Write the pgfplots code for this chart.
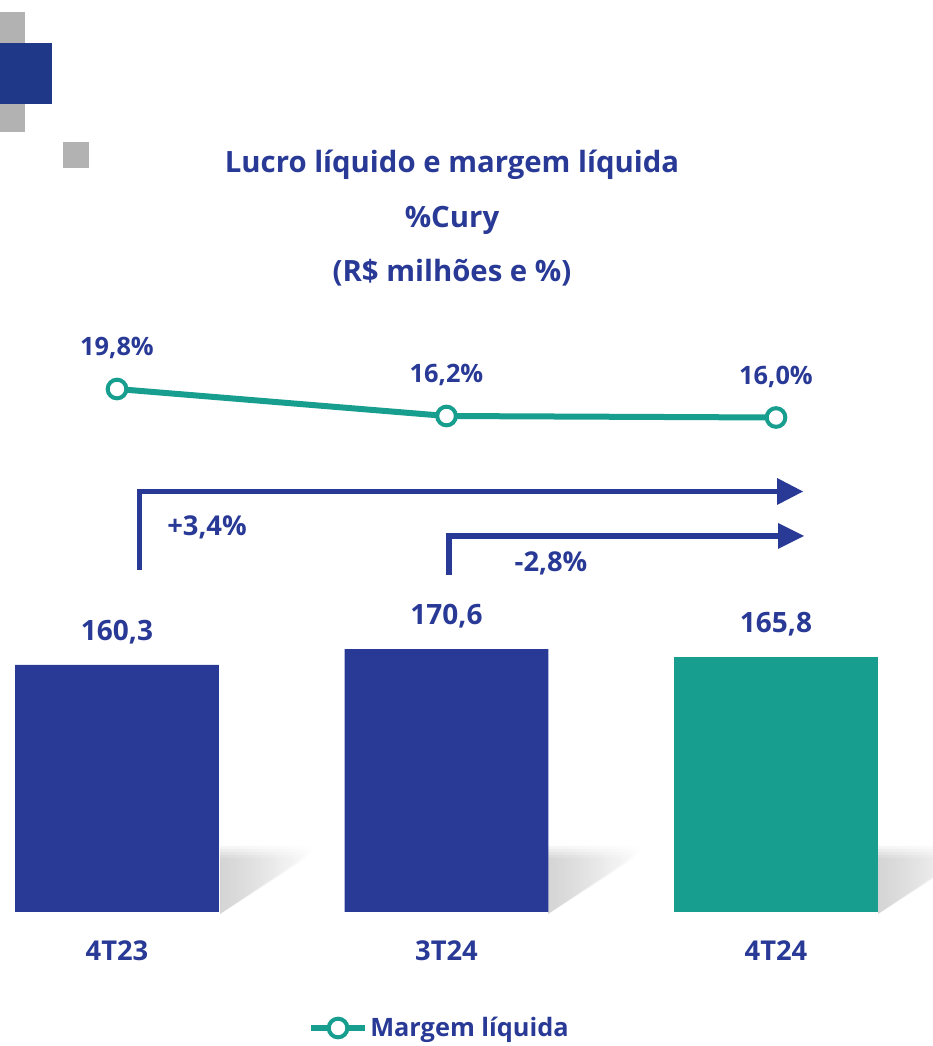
\documentclass[border=0pt]{standalone}
\usepackage{fontspec}
\setmainfont{Open Sans}
\usepackage{pgfplots}
\pgfplotsset{compat=1.18}
\usetikzlibrary{fadings}

\definecolor{cblue}{HTML}{283996}
\definecolor{dblue}{HTML}{1F3988}
\definecolor{cteal}{HTML}{179E8F}
\definecolor{cgray}{HTML}{B2B2B2}

\newcommand{\lbl}{\bfseries\fontsize{19}{23}\selectfont}
\newcommand{\ttl}{\bfseries\fontsize{22}{26}\selectfont}
\newcommand{\val}{\bfseries\fontsize{21}{25}\selectfont}
\newcommand{\cat}{\bfseries\fontsize{20.5}{24}\selectfont}

\begin{document}
\begin{tikzpicture}
\useasboundingbox (0,0) rectangle (699pt,784.5pt);

% decorations, in pixel units from the top left
\begin{scope}[x=0.75pt,y=-0.75pt,yshift=784.5pt]
  \fill[cgray] (0,12) rectangle (25,44);
  \fill[cgray] (0,104) rectangle (25,132);
  \fill[dblue] (0,43) rectangle (52,104);
  \fill[cgray] (63,142) rectangle (89,168);
  % soft bar shadows
  \foreach \x in {220,548,878}{
    \foreach \d in {0,3,6,9,12}{
      \fill[black!45, opacity=0.09, path fading=east]
        (\x,846+\d) -- (\x+100-\d,846+\d) -- (\x,914) -- cycle;
    }
  }
  % titles
  \node[text=cblue,font=\ttl] at (452,165) {Lucro líquido e margem líquida};
  \node[text=cblue,font=\ttl] at (452,220) {\%Cury};
  \node[text=cblue,font=\ttl] at (452,273) {(R\$ milhões e \%)};
  % variation arrows
  \draw[cblue,line width=4pt] (139.5,570) -- (139.5,491.5) -- (778,491.5);
  \fill[cblue] (777,478) -- (803,491.5) -- (777,505) -- cycle;
  \draw[cblue,line width=4pt] (449,575) -- (449,536) -- (779,536);
  \fill[cblue] (778,523) -- (804,536) -- (778,549) -- cycle;
  \node[text=cblue,font=\cat] at (207,527) {+3,4\%};
  \node[text=cblue,font=\cat] at (551,563) {-2,8\%};
\end{scope}

% bars: lucro liquido (R$ milhoes)
\begin{axis}[
  at={(0pt,100.5pt)}, anchor=south west,
  scale only axis, width=699pt, height=684pt,
  xmin=-0.3551, xmax=2.4734, ymin=0, ymax=591.86,
  axis line style={draw=none}, ytick=\empty,
  xtick={0,1,2}, xticklabels={4T23,3T24,4T24},
  major tick length=0pt,
  xticklabel style={anchor=center, yshift=-29pt, font=\cat, text=cblue},
  clip=false,
  nodes near coords={\pgfmathprintnumber[fixed,fixed zerofill,precision=1,use comma,assume math mode=true]{\pgfplotspointmeta}},
  nodes near coords style={anchor=center, yshift=24.5pt, font=\val, text=cblue},
]
\addplot[ybar, bar width=0.619, bar shift=0pt, fill=cblue, draw=none]
  coordinates {(0,160.3) (1,170.6)};
\addplot[ybar, bar width=0.619, bar shift=0pt, fill=cteal, draw=none]
  coordinates {(2,165.8)};
\end{axis}

% line: margem liquida (%)
\begin{axis}[
  at={(0pt,0pt)}, anchor=south west,
  scale only axis, width=699pt, height=784.5pt,
  xmin=-0.3551, xmax=2.4734, ymin=-67.8, ymax=71.67,
  hide axis, clip=false,
  nodes near coords={\pgfmathprintnumber[fixed,fixed zerofill,precision=1,use comma,assume math mode=true]{\pgfplotspointmeta}\%},
  nodes near coords style={anchor=center, yshift=30.5pt, font=\lbl, text=cblue},
  legend style={at={(0.472,0.0172)}, anchor=center, draw=none, fill=none,
    font=\lbl, text=cblue},
  legend image code/.code={
    \draw[#1,mark repeat=2,mark phase=2] plot coordinates {(0cm,0cm) (0.7cm,0cm) (1.4cm,0cm)};},
]
\addplot[cteal, line width=4.5pt, mark=*, mark size=7pt,
  mark options={fill=white, draw=cteal, line width=3pt}]
  coordinates {(0,19.8) (1,16.2) (2,16.0)};
\legend{Margem líquida}
\end{axis}
\end{tikzpicture}
\end{document}
